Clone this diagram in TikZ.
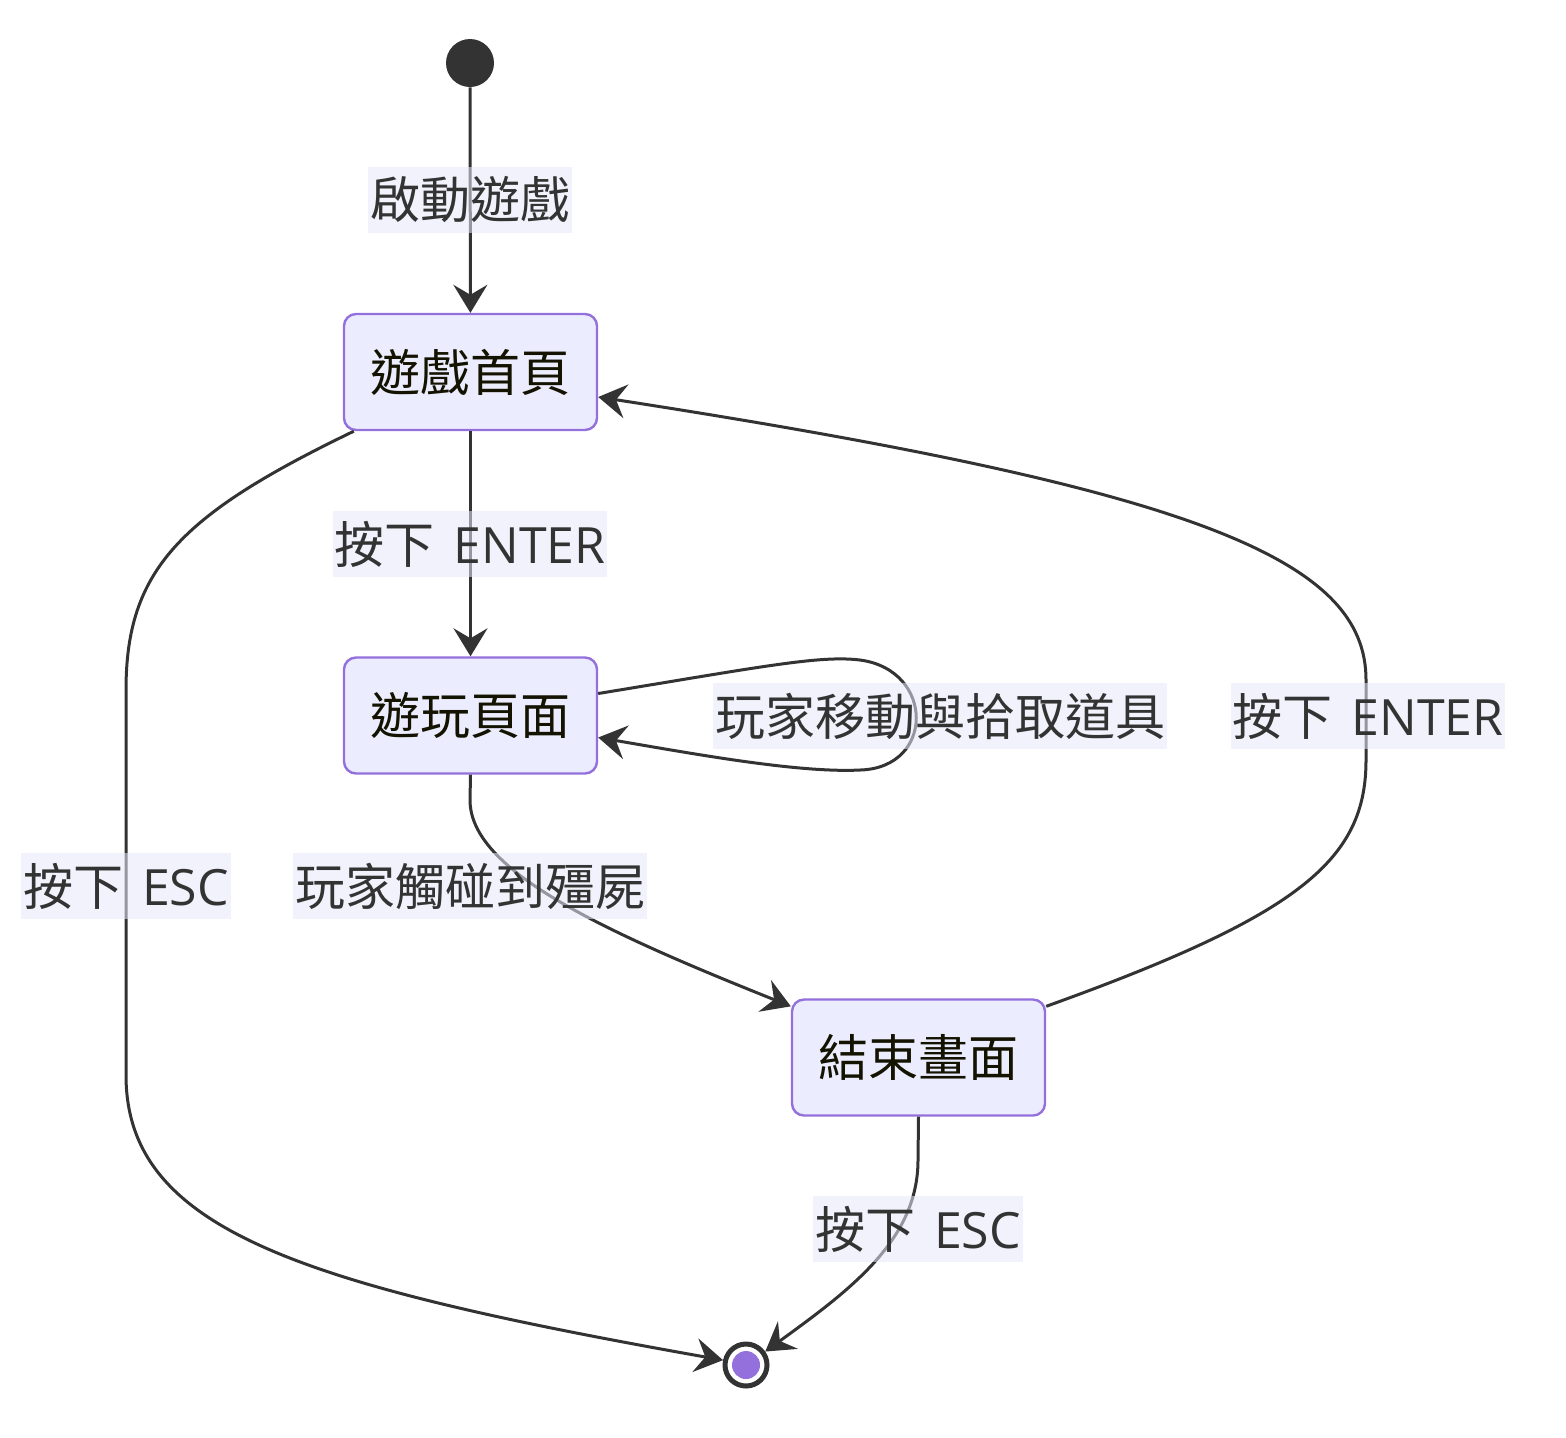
\documentclass[tikz,border=0pt]{standalone}
\usepackage{fontspec}
\setmainfont{Noto Sans CJK TC}
\newfontfamily\latf{Open Sans}
\usetikzlibrary{arrows.meta}
\definecolor{nodefill}{HTML}{ECECFF}
\definecolor{nodeline}{HTML}{9370DB}
\definecolor{edgec}{HTML}{333333}
\definecolor{lblfill}{HTML}{E8E8FA}
\definecolor{txt}{HTML}{131300}
\begin{document}
\begin{tikzpicture}[x=0.5pt,y=-0.5pt,
  state/.style={draw=nodeline, line width=1.2pt, fill=nodefill, rounded corners=6pt,
    minimum width=126.5pt, minimum height=58pt, inner sep=0pt,
    font=\fontsize{25}{30}\selectfont, text=txt},
  lbl/.style={fill=lblfill, fill opacity=0.55, text opacity=1, text=edgec,
    font=\fontsize{25}{30}\selectfont, inner xsep=1pt, inner ysep=0pt, minimum height=33pt},
  conn/.style={draw=edgec, line width=1.5pt, -{Stealth[length=14pt,width=17pt,inset=5pt]}}
]
\path[use as bounding box] (0,0) rectangle (1566,1437);

\node[circle, fill=edgec, minimum size=24pt, inner sep=0pt] (start) at (470,63) {};
\node[state] (home) at (470.5,372) {遊戲首頁};
\node[state] (play) at (470.5,715.5) {遊玩頁面};
\node[state] (over) at (918.5,1057.5) {結束畫面};
\node[circle, draw=edgec, line width=2.5pt, fill=white, minimum size=21pt, inner sep=0pt] (end) at (746,1365) {};
\fill[nodeline] (end.center) circle (7pt);

% edges
\draw[conn] (start) -- (home);
\draw[conn] (home) -- (play);
\draw[conn] ([xshift=5.5pt]home.south west) .. controls (180,515) and (126,570) .. (126,690)
  -- (126,1075) .. controls (126,1230) and (300,1285) .. (end.168);
\draw[conn] ([yshift=11pt]play.east) .. controls (760,667) and (820,655) .. (860,660)
  .. controls (935,670) and (935,768) .. (860,770)
  .. controls (800,773) and (700,755) .. ([yshift=-11pt]play.east);
\draw[conn] (play.south) -- (470,800) .. controls (470,870) and (600,930) .. ([yshift=-4pt]over.north west);
\draw[conn] ([yshift=-4pt]over.north east) .. controls (1300,915) and (1366,860) .. (1366,760)
  -- (1366,680) .. controls (1366,560) and (1200,490) .. ([yshift=-12.5pt]home.east);
\draw[conn] (over.south) -- (918,1160) .. controls (918,1240) and (850,1290) .. (end.35);

% labels
\node[lbl] (l1) at (470,200) {啟動遊戲};
\node[lbl] (l2) at (470,544) {按下\hspace{0.38em}{\latf ENTER}};
\node[lbl] (l3) at (126,886) {按下\hspace{0.38em}{\latf ESC}};
\node[lbl] (l4) at (940,716) {玩家移動與拾取道具};
\node[lbl] (l5) at (470,886) {玩家觸碰到殭屍};
\node[lbl] (l6) at (1368,716) {按下\hspace{0.38em}{\latf ENTER}};
\node[lbl] (l7) at (918,1229) {按下\hspace{0.38em}{\latf ESC}};
\end{tikzpicture}
\end{document}
